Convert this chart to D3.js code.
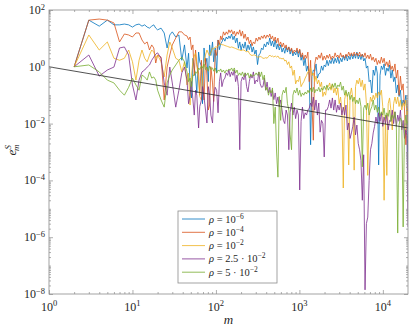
<!DOCTYPE html>
<html>
<head>
<meta charset="utf-8">
<script src="https://cdn.jsdelivr.net/npm/d3@7"></script>
<style>
body { margin: 0; background: #fff; }
</style>
</head>
<body>
<div id="chart"></div>
<script>
// abscissa m (main grid, shared by all series)
var mVals = [2,3,4,5,6,7,8,9,10,11,12,13,14,15,16,17,18,19,20,
    22,24,26,28,30,33,36,39,42,45,49,53,57,62,67,72,78,84,91,98,
    106,114,123,133,143,154,166,179,193,208,224,242,261,281,303,327,352,380,410,442,
    476,513,553,596,643,693,747,805,868,936,1009,1087,1172,1264,1362,1468,1583,1706,1839,1983,
    2137,2304,2484,2677,2886,3111,3354,3615,3897,4201,4529,4882,5262,5673,6115,6592,7106,7660,8257,8901,
    9595,10343,11150,12019,12956,13966,15055,16229,17494,18858,20000];

// e_m^S for each rho on the main grid
var eRho1 = [1,44,27,44,30,30,32,30,25,30,
    32,27,30,25,23,27,30,23,20,23,
    15.5,4.6,13.2,17,11.2,13.2,1.7,5.9,0.91,0.27,
    2.0,0.51,3.3,1.07,4.6,2.0,5.9,7.5,4.6,8.8,
    6.4,10.3,11.2,12.2,14.3,12.2,10.3,7.5,6.4,7.5,
    5.9,6.4,5.0,3.9,2.6,4.6,6.4,7.5,10.3,8.1,
    8.8,6.4,5.9,4.6,5.0,5.0,4.2,3.3,3.9,3.9,
    2.6,2.0,1.07,0.0018,0.77,1.26,0.56,1.07,1.16,1.7,
    1.7,2.0,2.0,2.2,2.0,2.4,2.6,2.4,2.8,2.8,
    3.3,2.6,2.8,2.0,1.07,0.34,0.77,1.07,0.00035,1.07,
    1.26,0.91,1.16,0.77,0.44,0.23,0.15,0.068,0.10,0.00023];
var eRho2 = [1,44,48,44,35,7.5,14.3,13.2,11.2,15.5,
    15.5,8.8,6.4,7.5,3.9,5.9,4.6,1.36,2.6,2.2,
    0.068,0.98,2.6,5.9,10.3,17,17,13.2,12.2,11.2,
    5.9,3.9,0.61,1.7,0.068,0.51,0.045,0.27,3.9,8.8,
    12.2,17,17,20,20,18,17,20,18,14.3,
    11.2,8.8,7.5,10.3,11.2,12.2,13.2,13.2,14.3,12.2,
    11.2,10.3,7.5,6.9,5.9,5.0,4.6,3.9,4.6,4.2,
    3.1,2.6,3.3,1.7,0.0026,2.2,2.6,3.1,2.4,2.6,
    2.8,2.4,3.1,2.6,3.1,2.6,2.8,3.3,3.1,3.3,
    3.1,3.3,2.8,3.1,2.6,2.8,2.2,2.0,1.7,2.2,
    2.0,1.5,1.7,1.07,1.26,0.77,0.47,0.25,0.0018,0.068];
var eRho3 = [1,13.2,3.9,7.5,2.0,1.7,2.0,3.9,1.5,0.34,
    1.7,3.9,2.0,1.5,2.6,3.9,3.3,2.0,2.6,1.5,
    0.44,2.6,7.5,4.6,2.0,1.7,0.66,1.5,0.23,0.045,
    1.7,3.1,0.34,0.068,1.5,3.9,2.4,4.6,5.0,5.4,
    6.4,5.9,5.4,5.0,5.0,4.6,4.2,3.9,3.9,3.6,
    3.6,2.6,2.6,2.4,2.2,2.2,2.0,2.0,2.6,2.4,
    2.4,2.4,2.0,2.0,1.7,1.5,1.07,0.77,0.34,0.47,
    0.25,0.40,0.66,0.91,0.61,0.47,0.34,0.29,0.13,0.21,
    0.27,0.25,0.18,0.18,0.086,5.4e-5,0.13,3.5e-4,0.18,2.3e-4,
    0.34,0.40,0.34,0.25,1.5e-4,0.086,0.10,0.12,0.13,0.15,
    2.0e-5,1.5e-4,0.080,0.006,0.086,0.086,0.068,0.053,0.068,0.030];
var eRho4 = [1,2.6,0.47,0.77,0.98,4.6,5.0,2.6,0.23,0.068,
    0.34,0.66,0.77,0.98,1.16,1.7,2.2,2.8,3.1,2.0,
    0.27,0.10,0.98,0.27,0.038,0.15,0.61,0.98,0.34,0.10,
    0.068,0.15,0.0070,0.068,0.086,0.0105,0.10,0.0105,0.19,0.024,
    0.61,0.34,0.61,0.77,0.66,0.77,0.51,0.0012,0.44,0.61,
    0.13,0.51,0.66,0.34,0.66,0.19,0.40,0.29,0.19,0.15,
    0.12,0.086,0.068,0.013,0.030,0.0012,0.053,0.038,0.030,4.6e-5,
    0.038,0.024,0.030,0.053,0.086,0.068,0.053,0.013,6.7e-4,0.030,
    0.068,0.080,0.068,0.045,0.053,0.038,0.045,0.0105,0.0047,0.017,
    0.0089,0.0012,2.0e-5,1.4e-8,5.1e-6,0.0012,0.0047,0.017,0.024,0.024,
    0.017,0.020,0.013,0.030,0.026,0.020,0.030,0.013,0.006,2.3e-6];
var eRho5 = [1,1.16,0.66,0.34,0.27,0.15,0.10,0.19,0.40,0.23,
    0.15,0.51,0.44,0.34,0.66,0.40,0.44,0.34,0.15,0.068,
    0.038,0.27,0.51,0.77,1.16,1.7,2.2,1.5,0.66,0.40,
    0.51,0.66,0.91,1.07,1.26,0.98,1.07,0.91,0.91,0.77,
    0.84,0.77,0.77,0.84,0.91,0.91,0.77,0.61,0.66,0.61,
    0.61,0.56,0.51,0.61,0.66,0.66,0.51,0.19,0.15,0.18,
    0.038,1.3e-4,0.013,0.15,0.19,0.030,0.0012,0.15,0.18,0.15,
    0.12,0.13,0.15,0.18,0.19,0.16,0.19,0.18,0.21,0.23,
    0.19,0.25,0.27,0.23,0.29,0.21,0.15,0.13,0.10,0.086,
    0.068,0.080,3.0e-4,0.045,0.053,0.030,0.068,0.045,0.038,0.026,
    0.035,0.024,0.030,0.020,0.026,1.4e-6,0.016,2.3e-6,0.020,0.013];

// in-between samples (the noisy part, m >= 45)
var mValsMid = [47,51,55,59,64,69,75,81,87,94,
    102,110,118,128,138,148,160,172,186,200,
    216,233,251,271,292,315,339,366,395,426,
    459,494,533,574,619,668,719,775,836,901,
    972,1047,1129,1217,1312,1414,1524,1643,1771,1910,
    2059,2219,2392,2579,2780,2996,3230,3482,3753,4046,
    4362,4702,5068,5464,5890,6349,6844,7378,7953,8573,
    9241,9962,10739,11576,12479,13451,14500,15631,16849,18163,19420];
var eRho1Mid = [3.0,0.08,0.9,0.12,1.5,0.05,1.2,0.3,2.5,1.5,
    0.6,4.0,7.5,8.0,9.5,10,9.0,7.0,4.5,3.9,
    4.5,3.6,4.0,3.3,2.8,1.2,3.0,4.0,5.0,6.0,
    5.5,5.0,4.2,3.9,3.3,3.0,3.3,2.8,2.4,2.6,
    2.2,1.7,1.1,0.7,0.5,0.45,0.7,0.4,0.6,0.75,
    1.0,1.1,1.3,1.3,1.4,1.3,1.5,1.7,1.6,1.8,
    1.9,2.0,1.9,1.8,1.6,0.9,0.3,0.12,0.5,0.6,
    0.5,0.8,0.5,0.7,0.4,0.3,0.12,0.09,0.04,0.05,0.02];
var eRho2Mid = [9.0,4.0,0.5,1.2,0.1,0.4,2.0,0.03,1.0,0.06,
    2.5,6.0,9.0,13,14,16,14,12,14,12,
    10,8.5,6.5,5.5,6.5,8.0,9.0,10,10,11,
    9.5,8.0,7.0,5.5,5.0,4.5,3.9,3.5,3.0,3.3,
    3.0,2.2,1.8,2.0,0.3,0.05,1.2,1.8,2.0,1.7,
    1.8,2.0,1.8,2.0,2.2,2.0,2.2,2.0,2.3,2.4,
    2.4,2.5,2.4,2.3,2.2,2.0,1.9,1.7,1.5,1.2,
    1.3,1.4,1.1,1.0,0.8,0.7,0.4,0.1,0.15,0.03,0.01];
var eRho3Mid = [0.6,0.5,2.4,1.2,0.09,0.6,2.6,3.0,3.3,4.2,
    5.0,5.9,6.0,5.6,5.2,4.8,4.8,4.4,4.0,3.7,
    3.9,3.4,3.0,2.5,2.6,2.2,2.3,2.0,2.1,2.3,
    2.3,2.2,2.2,2.0,1.9,1.6,1.2,0.9,0.5,0.25,
    0.3,0.2,0.3,0.5,0.7,0.5,0.3,0.25,0.2,0.09,
    0.1,0.2,0.15,0.12,0.1,0.05,0.03,0.07,0.09,0.1,
    0.08,0.2,0.25,0.2,0.15,0.05,0.03,0.06,0.07,0.08,
    0.1,0.04,0.02,0.05,0.03,0.05,0.05,0.04,0.03,0.04,0.02];
var eRho4Mid = [0.05,0.3,0.02,0.1,0.04,0.2,0.03,0.2,0.02,0.08,
    0.15,0.3,0.2,0.4,0.5,0.45,0.5,0.3,0.2,0.3,
    0.35,0.2,0.3,0.4,0.25,0.3,0.25,0.2,0.15,0.12,
    0.09,0.07,0.05,0.04,0.03,0.01,0.02,0.025,0.02,0.015,
    0.02,0.012,0.015,0.02,0.035,0.04,0.03,0.02,0.005,0.01,
    0.03,0.04,0.035,0.03,0.025,0.03,0.02,0.02,0.006,0.003,
    0.008,0.004,0.002,0.0005,0.0008,3e-6,1e-4,0.002,0.008,0.01,
    0.012,0.008,0.01,0.006,0.012,0.01,0.008,0.012,0.006,0.003,0.004];
var eRho5Mid = [0.3,0.2,0.5,0.6,0.8,0.9,0.8,0.7,0.8,0.7,
    0.6,0.7,0.65,0.6,0.7,0.75,0.7,0.6,0.5,0.5,
    0.45,0.5,0.4,0.45,0.5,0.5,0.45,0.35,0.15,0.1,
    0.12,0.01,0.001,0.09,0.1,0.12,0.05,0.004,0.1,0.12,
    0.1,0.09,0.1,0.11,0.12,0.13,0.12,0.14,0.13,0.15,
    0.16,0.15,0.17,0.19,0.17,0.2,0.15,0.1,0.09,0.07,
    0.06,0.05,0.05,0.04,0.035,0.03,0.02,0.04,0.03,0.025,
    0.018,0.02,0.015,0.018,0.012,0.015,0.01,0.009,0.012,0.008,0.009];

// reference slope m^(-1/2)
var refM = [1, 20000];
var refE = [1, 0.00707];

var seriesLabels = [
    {pre: " = 10", exp: "\u22126"},
    {pre: " = 10", exp: "\u22124"},
    {pre: " = 10", exp: "\u22122"},
    {pre: " = 2.5 \u00b7 10", exp: "\u22122"},
    {pre: " = 5 \u00b7 10", exp: "\u22122"}
];
var colors = ["#0072BD", "#D95319", "#EDB120", "#7E2F8E", "#77AC30"];
var xTickVals = [1, 10, 100, 1000, 10000];
var yTickVals = [1e-8, 1e-6, 1e-4, 1e-2, 1, 1e2];

var allSeries = [[eRho1, eRho1Mid], [eRho2, eRho2Mid], [eRho3, eRho3Mid], [eRho4, eRho4Mid], [eRho5, eRho5Mid]];
var serif = "'Liberation Serif', 'DejaVu Serif', serif";

// set the dimensions and margins of the graph
var margin = {top: 10, right: 4, bottom: 35, left: 49},
    width = 412 - margin.left - margin.right,
    height = 329 - margin.top - margin.bottom;

var svg = d3.select("#chart")
    .append("svg")
    .attr("width", 412)
    .attr("height", 329)
    .attr("font-family", serif)
    .style("display", "block")
    .append("g")
    .attr("transform", "translate(" + margin.left + "," + margin.top + ")");

var x = d3.scaleLog().domain([1, 20000]).range([0, width]);
var y = d3.scaleLog().domain([1e-8, 1e2]).range([height, 0]);

// minor ticks at 2..9 of each decade
var xMinor = [], yMinor = [];
for (var k = 0; k <= 4; k++) {
    for (var j = 2; j <= 9; j++) {
        if (j * Math.pow(10, k) < 20000) xMinor.push(j * Math.pow(10, k));
    }
}
for (var k = -8; k <= 1; k++) {
    for (var j = 1; j <= 9; j++) {
        if (j === 1 && k % 2 === 0) continue;
        yMinor.push(j * Math.pow(10, k));
    }
}

svg.append("clipPath").attr("id", "plotclip")
    .append("rect").attr("width", width).attr("height", height);

// draw the lines
var line = d3.line()
    .x(function (d) { return x(d[0]); })
    .y(function (d) { return y(d[1]); });

var plot = svg.append("g").attr("clip-path", "url(#plotclip)");

allSeries.forEach(function (s, i) {
    var pts = mVals.map(function (m, n) { return [m, s[0][n]]; })
        .concat(mValsMid.map(function (m, n) { return [m, s[1][n]]; }));
    pts.sort(function (a, b) { return a[0] - b[0]; });
    plot.append("path")
        .datum(pts)
        .attr("d", line)
        .attr("fill", "none")
        .attr("stroke", colors[i])
        .attr("stroke-width", 0.8)
        .attr("stroke-linejoin", "round");
});

plot.append("path")
    .datum(refM.map(function (m, n) { return [m, refE[n]]; }))
    .attr("d", line)
    .attr("fill", "none")
    .attr("stroke", "#262626")
    .attr("stroke-width", 0.8);

// axes: ticks pointing inwards on all four sides
function styleAxis(g) {
    g.select(".domain").remove();
    g.selectAll(".tick line").attr("stroke", "#8c8c8c").attr("stroke-width", 0.7);
    g.selectAll(".tick text").remove();
}
function addAxis(axis, vals, size, tx, ty) {
    svg.append("g")
        .attr("transform", "translate(" + tx + "," + ty + ")")
        .call(axis.tickValues(vals).tickSize(size).tickFormat(""))
        .call(styleAxis);
}
addAxis(d3.axisBottom(x), xTickVals, -4, 0, height);
addAxis(d3.axisBottom(x), xMinor, -2, 0, height);
addAxis(d3.axisTop(x), xTickVals, -4, 0, 0);
addAxis(d3.axisTop(x), xMinor, -2, 0, 0);
addAxis(d3.axisLeft(y), yTickVals, -4, 0, 0);
addAxis(d3.axisLeft(y), yMinor, -2, 0, 0);
addAxis(d3.axisRight(y), yTickVals, -4, width, 0);
addAxis(d3.axisRight(y), yMinor, -2, width, 0);

svg.append("rect")
    .attr("width", width).attr("height", height)
    .attr("fill", "none").attr("stroke", "#8c8c8c").attr("stroke-width", 0.8);

// tick labels 10^k
xTickVals.forEach(function (v) {
    var t = svg.append("text")
        .attr("x", x(v)).attr("y", height + 16.5)
        .attr("text-anchor", "middle")
        .attr("fill", "#262626")
        .style("font-size", "12px");
    t.append("tspan").text("10");
    t.append("tspan").attr("dy", -4.5).style("font-size", "8.5px").text(String(Math.round(Math.log10(v))));
});
yTickVals.forEach(function (v) {
    var e = Math.round(Math.log10(v));
    var t = svg.append("text")
        .attr("x", -4).attr("y", y(v) + 4)
        .attr("text-anchor", "end")
        .attr("fill", "#262626")
        .style("font-size", "12px");
    t.append("tspan").text("10");
    t.append("tspan").attr("dy", -4.5).style("font-size", "8.5px").text(e < 0 ? "\u2212" + (-e) : String(e));
});

// axis titles
svg.append("text")
    .attr("x", (width / 2)).attr("y", height + 30)
    .attr("text-anchor", "middle")
    .attr("fill", "#262626")
    .style("font-size", "13px").style("font-style", "italic")
    .text("m");

var yl = svg.append("text")
    .attr("transform", "translate(" + (-33) + "," + (height / 2 - 2) + ") rotate(-90)")
    .attr("text-anchor", "middle")
    .attr("fill", "#262626")
    .style("font-size", "13px").style("font-style", "italic");
yl.append("tspan").text("e");
yl.append("tspan").attr("dy", -5).style("font-size", "9px").text("S");
yl.append("tspan").attr("dx", -6).attr("dy", 8).style("font-size", "9px").text("m");

// legend
var lg = svg.append("g").attr("transform", "translate(" + (178 - margin.left) + "," + (211 - margin.top) + ")");
lg.append("rect")
    .attr("width", 99).attr("height", 72)
    .attr("fill", "#fff").attr("stroke", "#8c8c8c").attr("stroke-width", 0.8);
seriesLabels.forEach(function (s, i) {
    var yy = 8 + i * 13.3;
    lg.append("line")
        .attr("x1", 4).attr("x2", 27).attr("y1", yy).attr("y2", yy)
        .attr("stroke", colors[i]).attr("stroke-width", 0.8);
    var t = lg.append("text").attr("x", 31).attr("y", yy + 3.5)
        .attr("fill", "#262626").style("font-size", "10.5px");
    t.append("tspan").style("font-style", "italic").text("\u03c1");
    t.append("tspan").text(s.pre);
    t.append("tspan").attr("dy", -4).style("font-size", "7.5px").text(s.exp);
});
</script>
</body>
</html>
